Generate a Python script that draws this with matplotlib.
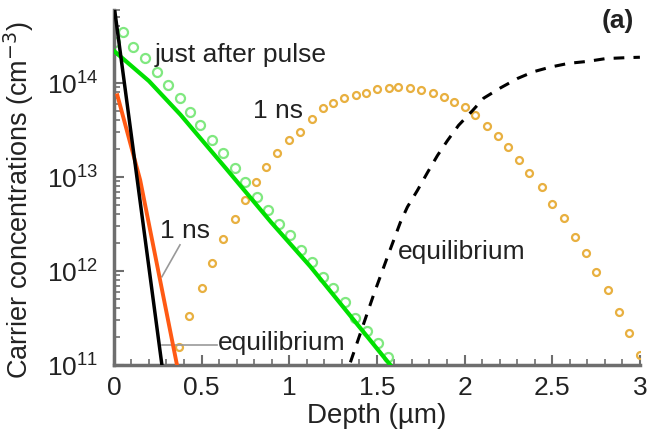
import matplotlib
matplotlib.use("Agg")
import matplotlib.pyplot as plt
from matplotlib.ticker import MultipleLocator, LogLocator, NullFormatter

plt.rcParams['font.family'] = ['Liberation Sans', 'DejaVu Sans']

# just after pulse: measured points (green circles) and fitted profile
green_x = [0.006, 0.051, 0.109, 0.177, 0.246, 0.309, 0.377, 0.434, 0.491, 0.56, 0.623,
           0.691, 0.749, 0.817, 0.88, 0.943, 1.006, 1.069, 1.131, 1.194, 1.251, 1.32,
           1.377, 1.446, 1.509, 1.566]
green_y = [2.75e14, 3.47e14, 2.4e14, 1.86e14, 1.32e14, 9.5e13, 6.9e13, 4.9e13, 3.55e13,
           2.45e13, 1.82e13, 1.26e13, 8.9e12, 6.2e12, 4.5e12, 3.2e12, 2.4e12, 1.66e12,
           1.26e12, 8.7e11, 6.6e11, 4.7e11, 3.2e11, 2.3e11, 1.7e11, 1.23e11]
green_line_x = [0.0, 0.2, 0.38, 0.64, 0.897, 1.12, 1.577]
green_line_y = [2.2e14, 1.05e14, 4.6e13, 1.23e13, 3.3e12, 1.12e12, 1.0e11]

# 1 ns: orange circles
ns_x = [0.37, 0.43, 0.50, 0.56, 0.62, 0.69, 0.75, 0.81, 0.87, 0.93, 1.00, 1.06, 1.13,
        1.19, 1.25, 1.31, 1.38, 1.44, 1.50, 1.57, 1.62, 1.69, 1.75, 1.82, 1.88, 1.94,
        2.00, 2.06, 2.13, 2.19, 2.25, 2.31, 2.37, 2.44, 2.50, 2.57, 2.63, 2.69, 2.75,
        2.82, 2.88, 2.94, 3.00]
ns_y = [1.55e11, 3.3e11, 6.6e11, 1.23e12, 2.2e12, 3.6e12, 5.75e12, 8.9e12, 1.29e13,
        1.82e13, 2.45e13, 3.0e13, 4.1e13, 5.4e13, 6.2e13, 6.9e13, 7.4e13, 7.9e13,
        8.7e13, 8.9e13, 9.1e13, 8.9e13, 8.5e13, 7.8e13, 7.1e13, 6.3e13, 5.5e13,
        4.6e13, 3.5e13, 2.7e13, 2.1e13, 1.5e13, 1.1e13, 7.8e12, 5.2e12, 3.7e12,
        2.3e12, 1.55e12, 9.8e11, 6.3e11, 3.7e11, 2.2e11, 1.29e11]

# thin-layer profiles: black (equilibrium) and orange (1 ns)
black_x = [0.0, 0.274]
black_y = [6.9e14, 1.0e11]
orange_x = [0.02, 0.15, 0.36]
orange_y = [7.4e13, 9.3e12, 1.0e11]

# equilibrium (dashed)
eq_x = [1.349, 1.423, 1.48, 1.56, 1.634, 1.674, 1.731, 1.789, 1.846, 1.903, 1.966,
        2.046, 2.109, 2.206, 2.303, 2.394, 2.491, 2.594, 2.703, 2.806, 2.92, 3.0]
eq_y = [1.07e11, 2.7e11, 5.5e11, 1.41e12, 3.3e12, 4.8e12, 7.2e12, 1.12e13, 1.7e13,
        2.45e13, 3.55e13, 5.1e13, 6.9e13, 8.9e13, 1.12e14, 1.32e14, 1.48e14, 1.62e14,
        1.7e14, 1.82e14, 1.86e14, 1.88e14]

fig = plt.figure(figsize=(6.47, 4.29), dpi=100)
ax = fig.add_axes([0.176, 0.149, 0.813, 0.828])

gray = '#6e6e6e'
ax.plot(green_line_x, green_line_y, color='#00e000', lw=3, zorder=3)
ax.plot(green_x, green_y, 'o', ms=6.5, mfc='none', mec='#80e880', mew=1.6, zorder=2)
ax.plot(black_x, black_y, color='black', lw=2.5, zorder=4)
ax.plot(orange_x, orange_y, color='#ff5a14', lw=2.8, zorder=3)
ax.plot(ns_x, ns_y, 'o', ms=5, mfc='none', mec='#e8b040', mew=1.6, zorder=2)
ax.plot(eq_x, eq_y, '--', color='black', lw=2.2, dashes=(3.5, 3), zorder=3)

ax.set_yscale('log')
ax.set_xlim(0, 3)
ax.set_ylim(1e11, 6.0e14)

ax.xaxis.set_minor_locator(MultipleLocator(0.1))
ax.set_xticks([0, 0.5, 1, 1.5, 2, 2.5, 3])
ax.set_xticklabels(['0', '0.5', '1', '1.5', '2', '2.5', '3'])
ax.yaxis.set_major_locator(LogLocator(base=10, numticks=10))
ax.yaxis.set_minor_locator(LogLocator(base=10, subs=range(2, 10), numticks=20))
ax.yaxis.set_minor_formatter(NullFormatter())

for s in ['top', 'right']:
    ax.spines[s].set_visible(False)
for s in ['left', 'bottom']:
    ax.spines[s].set_color(gray)
    ax.spines[s].set_linewidth(2.5)

tc = '#222222'
ax.tick_params(which='major', direction='in', length=7, width=1.5, color=gray,
               labelsize=19, labelcolor=tc)
ax.tick_params(axis='y', which='major', pad=11)
ax.tick_params(axis='x', which='major', pad=8)
ax.tick_params(which='minor', direction='in', length=4, width=1.2, color=gray)

ax.set_xlabel('Depth (µm)', fontsize=20, labelpad=2, color=tc)
ax.set_ylabel('Carrier concentrations (cm$^{-3}$)', fontsize=19.5, color=tc)
ax.yaxis.set_label_coords(-0.148, 0.465)

ax.text(0.234, 2.0e14, 'just after pulse', fontsize=19, va='center', ha='left', color=tc)
ax.text(0.794, 5.0e13, '1 ns', fontsize=19, va='center', ha='left', color=tc)
ax.text(0.263, 2.7e12, '1 ns', fontsize=19, va='center', ha='left', color=tc)
ax.plot([0.274, 0.377], [8.7e11, 1.9e12], color='#999999', lw=1.2)
ax.text(0.594, 1.7e11, 'equilibrium', fontsize=19, va='center', ha='left', color=tc)
ax.plot([0.274, 0.589], [1.63e11, 1.63e11], color='#999999', lw=1.2)
ax.text(1.617, 1.6e12, 'equilibrium', fontsize=19, va='center', ha='left', color=tc)
ax.text(2.78, 4.6e14, '(a)', fontsize=19, fontweight='bold', va='center', ha='left',
        color=tc)

fig.savefig('out.png', dpi=100)
